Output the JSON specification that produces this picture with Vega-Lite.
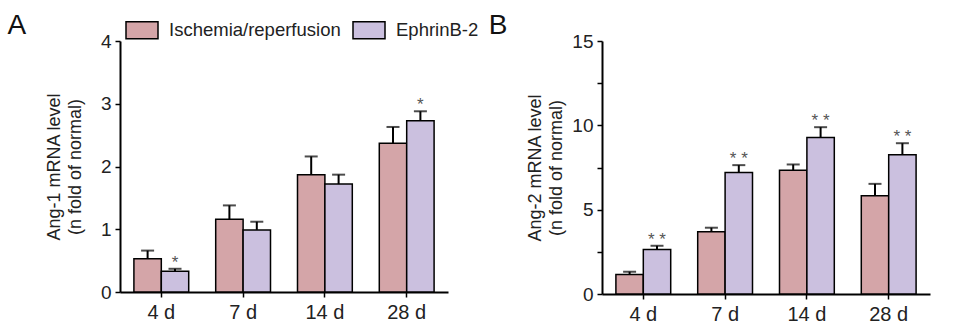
{
  "$schema": "https://vega.github.io/schema/vega-lite/v6.json",
  "padding": {"left": 7, "top": 12, "right": 5, "bottom": 0},
  "background": "white",
  "bounds": "flush",
  "spacing": 154,
  "config": {
    "view": {"stroke": null}
  },
  "datasets": {
    "rows": [
      {"panel": "A", "day": "4 d", "group": "Ischemia/reperfusion", "value": 0.53, "hi": 0.66, "star": ""},
      {"panel": "A", "day": "4 d", "group": "EphrinB-2", "value": 0.33, "hi": 0.37, "star": "*"},
      {"panel": "A", "day": "7 d", "group": "Ischemia/reperfusion", "value": 1.16, "hi": 1.38, "star": ""},
      {"panel": "A", "day": "7 d", "group": "EphrinB-2", "value": 0.99, "hi": 1.12, "star": ""},
      {"panel": "A", "day": "14 d", "group": "Ischemia/reperfusion", "value": 1.87, "hi": 2.16, "star": ""},
      {"panel": "A", "day": "14 d", "group": "EphrinB-2", "value": 1.72, "hi": 1.87, "star": ""},
      {"panel": "A", "day": "28 d", "group": "Ischemia/reperfusion", "value": 2.37, "hi": 2.63, "star": ""},
      {"panel": "A", "day": "28 d", "group": "EphrinB-2", "value": 2.73, "hi": 2.88, "star": "*"},
      {"panel": "B", "day": "4 d", "group": "Ischemia/reperfusion", "value": 1.16, "hi": 1.32, "star": ""},
      {"panel": "B", "day": "4 d", "group": "EphrinB-2", "value": 2.64, "hi": 2.86, "star": "* *"},
      {"panel": "B", "day": "7 d", "group": "Ischemia/reperfusion", "value": 3.69, "hi": 3.93, "star": ""},
      {"panel": "B", "day": "7 d", "group": "EphrinB-2", "value": 7.2, "hi": 7.64, "star": "* *"},
      {"panel": "B", "day": "14 d", "group": "Ischemia/reperfusion", "value": 7.34, "hi": 7.68, "star": ""},
      {"panel": "B", "day": "14 d", "group": "EphrinB-2", "value": 9.28, "hi": 9.89, "star": "* *"},
      {"panel": "B", "day": "28 d", "group": "Ischemia/reperfusion", "value": 5.82, "hi": 6.53, "star": ""},
      {"panel": "B", "day": "28 d", "group": "EphrinB-2", "value": 8.25, "hi": 8.94, "star": "* *"}
    ]
  },
  "data": {"name": "rows"},
  "resolve": {"scale": {"color": "independent", "y": "independent"}, "legend": {"color": "independent"}},
  "hconcat": [
    {
      "width": 328,
      "height": 251,
      "title": {"text": "A", "anchor": "start", "frame": "bounds", "dx": -38, "offset": -8, "font": "Liberation Sans", "fontSize": 28, "fontWeight": "normal", "color": "#111"},
      "transform": [{"filter": "datum.panel === 'A'"}],
      "encoding": {
        "x": {"field": "day", "type": "nominal", "sort": ["4 d", "7 d", "14 d", "28 d"], "scale": {"paddingInner": 0.33, "paddingOuter": 0.17}, "axis": {"title": null, "labelAngle": 0, "labelPadding": 5, "labelFont": "Liberation Sans", "labelFontSize": 20, "labelColor": "#222", "domainColor": "black", "domainWidth": 2, "tickColor": "black", "tickWidth": 1.5, "tickSize": 5}},
        "xOffset": {"field": "group", "type": "nominal", "sort": ["Ischemia/reperfusion", "EphrinB-2"], "scale": {"paddingInner": 0}}
      },
      "layer": [
        {
          "mark": {"type": "bar", "stroke": "black", "strokeWidth": 1.5, "fillOpacity": 1},
          "encoding": {
            "y": {"field": "value", "type": "quantitative", "scale": {"domain": [0, 4], "nice": false}, "axis": {"values": [0, 0.5, 1, 1.5, 2, 2.5, 3, 3.5, 4], "labelExpr": "datum.value % 1 === 0 ? format(datum.value, 'd') : ''", "title": ["Ang-1 mRNA level", "(n fold of normal)"], "titleFont": "Liberation Sans", "titleFontSize": 18, "titleFontWeight": "normal", "titleColor": "#222", "titleLineHeight": 21, "titlePadding": 16, "labelPadding": 4, "labelFont": "Liberation Sans", "labelFontSize": 19, "labelColor": "#222", "grid": false, "domainColor": "black", "domainWidth": 2, "tickColor": "black", "tickWidth": 1.5, "tickSize": 5}},
            "fill": {"field": "group", "type": "nominal", "sort": ["Ischemia/reperfusion", "EphrinB-2"], "scale": {"range": ["#d4a5a8", "#cbc0df"]}, "legend": {"title": null, "orient": "none", "legendX": 5, "legendY": -28, "direction": "horizontal", "symbolType": "M-1,-0.53L1,-0.53L1,0.53L-1,0.53Z", "symbolSize": 1024, "symbolStrokeColor": "black", "symbolStrokeWidth": 1.5, "symbolOpacity": 1, "labelOffset": 10, "columnPadding": 9, "labelLimit": 0, "labelFont": "Liberation Sans", "labelFontSize": 18.5, "labelColor": "#222"}}
          }
        },
        {
          "mark": {"type": "rule", "color": "black", "strokeWidth": 2},
          "encoding": {"y": {"field": "value", "type": "quantitative"}, "y2": {"field": "hi"}}
        },
        {
          "mark": {"type": "tick", "color": "black", "thickness": 2, "size": 13},
          "encoding": {"y": {"field": "hi", "type": "quantitative"}}
        },
        {
          "mark": {"type": "text", "font": "Liberation Sans", "fontSize": 17, "color": "#555", "baseline": "alphabetic", "dy": -1},
          "encoding": {"y": {"field": "hi", "type": "quantitative"}, "text": {"field": "star"}}
        }
      ]
    },
    {
      "width": 328,
      "height": 253,
      "title": {"text": "B", "anchor": "start", "frame": "bounds", "dx": -38, "offset": -8, "font": "Liberation Sans", "fontSize": 28, "fontWeight": "normal", "color": "#111"},
      "transform": [{"filter": "datum.panel === 'B'"}],
      "encoding": {
        "x": {"field": "day", "type": "nominal", "sort": ["4 d", "7 d", "14 d", "28 d"], "scale": {"paddingInner": 0.33, "paddingOuter": 0.17}, "axis": {"title": null, "labelAngle": 0, "labelPadding": 5, "labelFont": "Liberation Sans", "labelFontSize": 20, "labelColor": "#222", "domainColor": "black", "domainWidth": 2, "tickColor": "black", "tickWidth": 1.5, "tickSize": 5}},
        "xOffset": {"field": "group", "type": "nominal", "sort": ["Ischemia/reperfusion", "EphrinB-2"], "scale": {"paddingInner": 0}}
      },
      "layer": [
        {
          "mark": {"type": "bar", "stroke": "black", "strokeWidth": 1.5, "fillOpacity": 1},
          "encoding": {
            "y": {"field": "value", "type": "quantitative", "scale": {"domain": [0, 15], "nice": false}, "axis": {"values": [0, 2.5, 5, 7.5, 10, 12.5, 15], "labelExpr": "datum.value % 5 === 0 ? format(datum.value, 'd') : ''", "title": ["Ang-2 mRNA level", "(n fold of normal)"], "titleFont": "Liberation Sans", "titleFontSize": 18, "titleFontWeight": "normal", "titleColor": "#222", "titleLineHeight": 21, "titlePadding": 6, "labelPadding": 4, "labelFont": "Liberation Sans", "labelFontSize": 19, "labelColor": "#222", "grid": false, "domainColor": "black", "domainWidth": 2, "tickColor": "black", "tickWidth": 1.5, "tickSize": 5}},
            "fill": {"field": "group", "type": "nominal", "sort": ["Ischemia/reperfusion", "EphrinB-2"], "scale": {"range": ["#d4a5a8", "#cbc0df"]}, "legend": {"title": null, "orient": "none", "legendX": 5, "legendY": -28, "direction": "horizontal", "symbolType": "M-1,-0.53L1,-0.53L1,0.53L-1,0.53Z", "symbolSize": 1024, "symbolStrokeColor": "black", "symbolStrokeWidth": 1.5, "symbolOpacity": 1, "labelOffset": 10, "columnPadding": 9, "labelLimit": 0, "labelFont": "Liberation Sans", "labelFontSize": 18.5, "labelColor": "#222"}}
          }
        },
        {
          "mark": {"type": "rule", "color": "black", "strokeWidth": 2},
          "encoding": {"y": {"field": "value", "type": "quantitative"}, "y2": {"field": "hi"}}
        },
        {
          "mark": {"type": "tick", "color": "black", "thickness": 2, "size": 13},
          "encoding": {"y": {"field": "hi", "type": "quantitative"}}
        },
        {
          "mark": {"type": "text", "font": "Liberation Sans", "fontSize": 17, "color": "#555", "baseline": "alphabetic", "dy": -1},
          "encoding": {"y": {"field": "hi", "type": "quantitative"}, "text": {"field": "star"}}
        }
      ]
    }
  ]
}
